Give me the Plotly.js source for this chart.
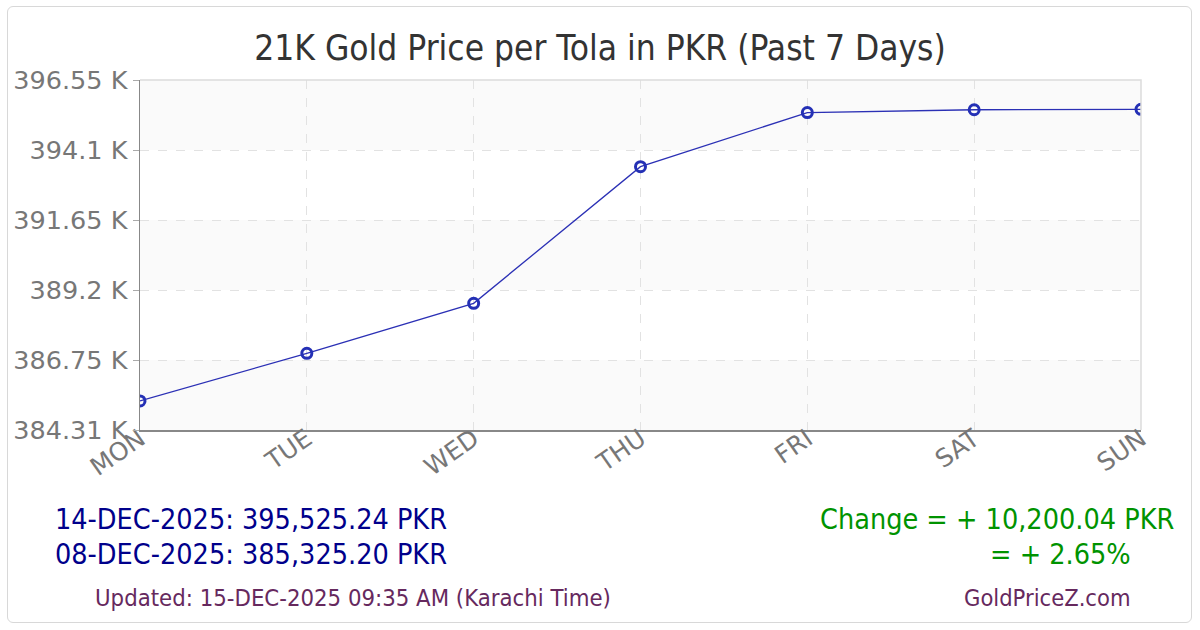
<!DOCTYPE html>
<html>
<head>
<meta charset="utf-8">
<script src="https://cdn.plot.ly/plotly-3.0.1.min.js"></script>
<style>
  body { margin: 0; background: #fff; }
  #chart { width: 1200px; height: 630px; }
  #frame {
    position: absolute; left: 7px; top: 6px; width: 1183px; height: 615px;
    border: 1px solid #d8d8d8; border-radius: 6px; pointer-events: none;
  }
</style>
</head>
<body>
<div id="frame"></div>
<div id="chart"></div>
<script>
var days = ['MON', 'TUE', 'WED', 'THU', 'FRI', 'SAT', 'SUN'];
var prices = [385325.20, 386990, 388740, 393520, 395410, 395510, 395525.24];

var tickVals = [384310, 386758, 389206, 391654, 394102, 396550];
var tickText = ['384.31 K', '386.75 K', '389.2 K', '391.65 K', '394.1 K', '396.55 K'];

var latestLabel = '14-DEC-2025: 395,525.24 PKR';
var firstLabel = '08-DEC-2025: 385,325.20 PKR';
var changeLabel = 'Change = + 10,200.04 PKR';
var pctLabel = '= + 2.65%';
var updatedLabel = 'Updated: 15-DEC-2025 09:35 AM (Karachi Time)';
var siteLabel = 'GoldPriceZ.com';

// shaded bands between every other pair of ticks
var bands = [];
for (var i = 0; i < tickVals.length - 1; i += 2) {
    bands.push({
        type: 'rect', xref: 'paper', yref: 'y', layer: 'below',
        x0: 0, x1: 1, y0: tickVals[i], y1: tickVals[i + 1],
        fillcolor: '#fafafa', line: { width: 0 }
    });
}
// top / right frame of plot area
bands.push({
    type: 'path', xref: 'paper', yref: 'paper', layer: 'above',
    path: 'M0,1 L1,1 L1,0', line: { color: '#dcdcdc', width: 1.5 }
});

var trace = {
    x: days,
    y: prices,
    type: 'scatter',
    mode: 'lines+markers',
    line: { color: '#2b30b5', width: 1.3 },
    marker: { symbol: 'circle-open', size: 10, line: { width: 3, color: '#2430b5' }, color: '#2430b5' },
    hoverinfo: 'x+y'
};

var bigFont = 'DejaVu Sans Condensed, DejaVu Sans, sans-serif';

var layout = {
    width: 1200,
    height: 630,
    margin: { l: 140, r: 59, t: 80, b: 200 },
    paper_bgcolor: 'rgba(0,0,0,0)',
    plot_bgcolor: '#ffffff',
    showlegend: false,
    title: {
        text: '21K Gold Price per Tola in PKR (Past 7 Days)',
        font: { family: bigFont, size: 35, color: '#333333' },
        x: 0.5, xanchor: 'center', y: 0.925, yanchor: 'middle'
    },
    xaxis: {
        type: 'category',
        range: [0, 6],
        showgrid: true,
        gridcolor: '#e2e2e2',
        griddash: 'dash',
        gridwidth: 1,
        showline: true,
        linecolor: '#888888',
        linewidth: 1.5,
        ticks: '',
        tickangle: -35,
        ticklabelstandoff: -17,
        tickfont: { family: 'DejaVu Sans, sans-serif', size: 25, color: '#777777' },
        zeroline: false
    },
    yaxis: {
        range: [tickVals[0], tickVals[tickVals.length - 1]],
        tickvals: tickVals,
        ticktext: tickText,
        showgrid: true,
        gridcolor: '#e2e2e2',
        griddash: 'dash',
        gridwidth: 1,
        showline: true,
        linecolor: '#888888',
        linewidth: 1.5,
        ticks: 'outside',
        ticklen: 6,
        tickcolor: '#aaaaaa',
        tickfont: { family: 'DejaVu Sans, sans-serif', size: 25.5, color: '#777777' },
        zeroline: false
    },
    shapes: bands,
    annotations: [
        { text: latestLabel, xref: 'paper', yref: 'paper', x: -0.087, y: -0.257, xanchor: 'left', yanchor: 'middle',
          showarrow: false, font: { family: bigFont, size: 28.5, color: '#00008b' } },
        { text: firstLabel, xref: 'paper', yref: 'paper', x: -0.087, y: -0.357, xanchor: 'left', yanchor: 'middle',
          showarrow: false, font: { family: bigFont, size: 28.5, color: '#00008b' } },
        { text: changeLabel, xref: 'paper', yref: 'paper', x: 1.035, y: -0.257, xanchor: 'right', yanchor: 'middle',
          showarrow: false, font: { family: bigFont, size: 28.5, color: '#009300' } },
        { text: pctLabel, xref: 'paper', yref: 'paper', x: 0.992, y: -0.357, xanchor: 'right', yanchor: 'middle',
          showarrow: false, font: { family: bigFont, size: 28.5, color: '#009300' } },
        { text: updatedLabel, xref: 'paper', yref: 'paper', x: -0.047, y: -0.480, xanchor: 'left', yanchor: 'middle',
          showarrow: false, font: { family: bigFont, size: 23.7, color: '#66295e' } },
        { text: siteLabel, xref: 'paper', yref: 'paper', x: 0.992, y: -0.480, xanchor: 'right', yanchor: 'middle',
          showarrow: false, font: { family: bigFont, size: 23.5, color: '#66295e' } }
    ]
};

Plotly.newPlot('chart', [trace], layout, { displayModeBar: false, staticPlot: true });
</script>
</body>
</html>
